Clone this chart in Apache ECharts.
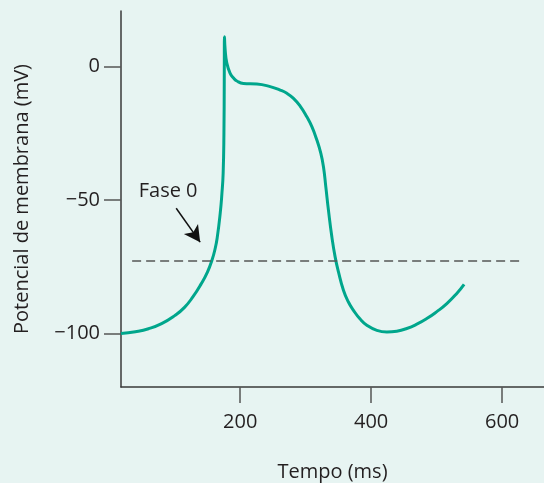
<!DOCTYPE html>
<html>
<head>
<meta charset="utf-8">
<script src="https://cdn.jsdelivr.net/npm/echarts@6/dist/echarts.min.js"></script>
<style>
html,body{margin:0;padding:0;background:#e7f4f2;}
#chart{width:544px;height:483px;}
</style>
</head>
<body>
<div id="chart"></div>
<script>
// Time (ms) and membrane potential (mV) of the action potential
var timeMs = [18, 40, 60, 80, 100, 115, 128, 140, 150, 157, 162, 165, 169.5, 172, 174, 175.2, 175.7, 176,
  177.1, 179.7, 184.7, 189.8, 194.9, 205, 225.5, 245.8, 261.1, 271.3, 281.4, 291.6, 301.8, 309.5, 317.1,
  323.2, 327.2, 330.8, 334.8, 340, 345, 350.1, 357.7, 365.3, 373, 383.2, 393.4, 408.7, 424, 439.2, 454.5,
  469.8, 485, 500.3, 515.6, 530.8, 542];
var potentialMv = [-100, -99.3, -98.2, -96.3, -93.3, -90.2, -86.2, -81.6, -77, -72.5, -68, -64, -55, -48, -40, -25, -5, 11.1,
  6.1, 1.1, -2.6, -4.4, -5.5, -6.4, -6.6, -7.6, -8.9, -10.1, -12, -14.9, -18.9, -22.6, -27.6,
  -32.6, -37.6, -45.1, -53.8, -63.8, -71.3, -76.9, -83.8, -88.2, -91.3, -94.6, -96.9, -98.8, -99.4, -99.1, -98.1,
  -96.5, -94.4, -91.8, -88.8, -85, -81.6];

var xTicks = [200, 400, 600];
var yTicks = [-100, -50, 0];
var thresholdMv = -72.7;
var thresholdSpan = [35, 627];
var phaseLabel = 'Fase 0';
var phaseLabelAt = [90, -46.6];
var arrowFrom = [102.3, -53.1];
var arrowTo = [138.9, -65.8];

var textColor = '#231f20';
var font = '"Open Sans", sans-serif';

var chart = echarts.init(document.getElementById('chart'), null, {renderer: 'canvas'});

var data = timeMs.map(function (t, i) { return [t, potentialMv[i]]; });

chart.setOption({
  backgroundColor: '#e7f4f2',
  animation: false,
  grid: {left: 121, top: 11, right: 0, bottom: 96, containLabel: false, outerBoundsMode: 'none'},
  xAxis: {
    type: 'value',
    min: 18,
    max: 664,
    name: 'Tempo (ms)',
    nameLocation: 'middle',
    nameGap: 75,
    nameTextStyle: {color: textColor, fontSize: 20, fontFamily: font},
    splitLine: {show: false},
    axisLine: {show: true, onZero: false, lineStyle: {color: '#3a3a3a', width: 1.5}},
    axisTick: {show: true, length: 16, customValues: xTicks, lineStyle: {color: '#555', width: 1.5}},
    axisLabel: {customValues: xTicks, color: textColor, fontSize: 20, fontFamily: font, margin: 25}
  },
  yAxis: {
    type: 'value',
    min: -120,
    max: 20.7,
    name: 'Potencial de membrana (mV)',
    nameLocation: 'middle',
    nameRotate: 90,
    nameGap: 89,
    nameTextStyle: {color: textColor, fontSize: 20, fontFamily: font},
    splitLine: {show: false},
    axisLine: {show: true, onZero: false, lineStyle: {color: '#3a3a3a', width: 1.5}},
    axisTick: {show: true, length: 17, customValues: yTicks, lineStyle: {color: '#555', width: 1.5}},
    axisLabel: {
      customValues: yTicks, color: textColor, fontSize: 20, fontFamily: font, margin: 21,
      formatter: function (v) { return v < 0 ? '\u2212' + Math.abs(v) : String(v); }
    }
  },
  series: [{
    type: 'line',
    data: data,
    showSymbol: false,
    smooth: 0.5,
    lineStyle: {color: '#00a68c', width: 3},
    z: 3,
    markLine: {
      silent: true,
      symbol: ['none', 'none'],
      animation: false,
      label: {show: false},
      data: [
        [{coord: [thresholdSpan[0], thresholdMv], lineStyle: {color: '#555', width: 1.5, type: [9, 5]}},
         {coord: [thresholdSpan[1], thresholdMv]}],
        [{coord: arrowFrom, symbol: 'none', lineStyle: {color: '#111', width: 1.5, type: 'solid'}},
         {coord: arrowTo, symbol: 'arrow', symbolSize: [13, 16]}]
      ]
    },
    markPoint: {
      silent: true,
      symbol: 'circle',
      symbolSize: 0,
      data: [{coord: phaseLabelAt, value: phaseLabel}],
      label: {show: true, position: 'inside', formatter: phaseLabel, color: textColor, fontSize: 20, fontFamily: font}
    }
  }]
});
</script>
</body>
</html>
